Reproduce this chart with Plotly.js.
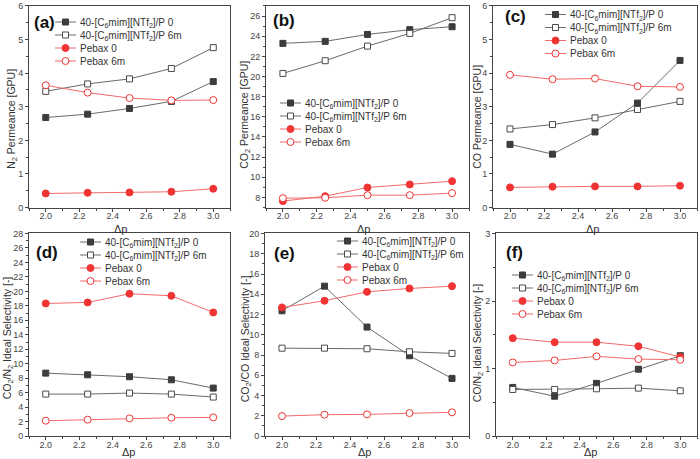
<!DOCTYPE html>
<html>
<head>
<meta charset="utf-8">
<script src="https://cdn.plot.ly/plotly-3.0.1.min.js"></script>
<style>html,body{margin:0;padding:0;background:#fff;}#chart{width:700px;height:459px;}</style>
</head>
<body>
<div id="chart"></div>
<script>
// ---- data ----
const dp = [2.0, 2.25, 2.5, 2.75, 3.0];
const seriesNames = [
  "40-[C<sub>6</sub>mim][NTf<sub>2</sub>]/P 0",
  "40-[C<sub>6</sub>mim][NTf<sub>2</sub>]/P 6m",
  "Pebax 0",
  "Pebax 6m"
];
// (a) N2 permeance [GPU]
const n2_P0   = [2.68, 2.78, 2.95, 3.16, 3.75];
const n2_P6   = [3.46, 3.68, 3.83, 4.14, 4.76];
const n2_Pb0  = [0.42, 0.44, 0.45, 0.47, 0.56];
const n2_Pb6  = [3.64, 3.42, 3.26, 3.19, 3.20];
// (b) CO2 permeance [GPU]
const co2_P0  = [23.29, 23.49, 24.18, 24.65, 24.94];
const co2_P6  = [20.31, 21.57, 23.02, 24.28, 25.84];
const co2_Pb0 = [7.64, 8.13, 8.99, 9.29, 9.62];
const co2_Pb6 = [7.93, 7.97, 8.23, 8.23, 8.43];
// (c) CO permeance [GPU]
const co_P0   = [1.88, 1.59, 2.25, 3.11, 4.38];
const co_P6   = [2.34, 2.47, 2.67, 2.92, 3.16];
const co_Pb0  = [0.60, 0.62, 0.63, 0.63, 0.65];
const co_Pb6  = [3.95, 3.82, 3.84, 3.61, 3.59];
// (d) CO2/N2 ideal selectivity
const sCN_P0  = [8.70, 8.47, 8.20, 7.78, 6.63];
const sCN_P6  = [5.80, 5.80, 5.94, 5.80, 5.39];
const sCN_Pb0 = [18.33, 18.47, 19.67, 19.39, 17.09];
const sCN_Pb6 = [2.12, 2.26, 2.44, 2.53, 2.58];
// (e) CO2/CO ideal selectivity
const sCC_P0  = [12.37, 14.80, 10.76, 7.93, 5.69];
const sCC_P6  = [8.68, 8.68, 8.62, 8.32, 8.16];
const sCC_Pb0 = [12.70, 13.36, 14.24, 14.57, 14.80];
const sCC_Pb6 = [1.97, 2.11, 2.14, 2.27, 2.34];
// (f) CO/N2 ideal selectivity
const sON_P0  = [0.72, 0.59, 0.78, 0.99, 1.19];
const sON_P6  = [0.69, 0.69, 0.70, 0.71, 0.67];
const sON_Pb0 = [1.45, 1.39, 1.39, 1.33, 1.17];
const sON_Pb6 = [1.09, 1.12, 1.18, 1.14, 1.13];

const panelLabels = ["(a)", "(b)", "(c)", "(d)", "(e)", "(f)"];
const yTitles = [
  "N<sub>2</sub> Permeance [GPU]",
  "CO<sub>2</sub> Permeance [GPU]",
  "CO Permeance [GPU]",
  "CO<sub>2</sub>/N<sub>2</sub> Ideal Selectivity [-]",
  "CO<sub>2</sub>/CO Ideal Selectivity [-]",
  "CO/N<sub>2</sub> Ideal Selectivity [-]"
];
const xTitle = "Δp";

// ---- styling / placement ----
const W = 700, H = 459;
const FONT = "Arial, 'Liberation Sans', sans-serif";
const GRAY_M = "#3c3c3c", GRAY_L = "#6a6a6a";
const RED_M = "#f03434", RED_L = "#f26a6a";
const styles = [
  {line: GRAY_L, mc: GRAY_M, fill: GRAY_M, sym: "square", size: 6},
  {line: GRAY_L, mc: "#4a4a4a", fill: "#ffffff", sym: "square", size: 6},
  {line: RED_L, mc: RED_M, fill: RED_M, sym: "circle", size: 7},
  {line: RED_L, mc: RED_M, fill: "#ffffff", sym: "circle", size: 7}
];

const panels = [
  {data: [n2_P0, n2_P6, n2_Pb0, n2_Pb6], yr: [0, 6], dt: 1},
  {data: [co2_P0, co2_P6, co2_Pb0, co2_Pb6], yr: [7, 27], dt: 2, t0: 8},
  {data: [co_P0, co_P6, co_Pb0, co_Pb6], yr: [0, 6], dt: 1},
  {data: [sCN_P0, sCN_P6, sCN_Pb0, sCN_Pb6], yr: [0, 28], dt: 2},
  {data: [sCC_P0, sCC_P6, sCC_Pb0, sCC_Pb6], yr: [0, 20], dt: 2},
  {data: [sON_P0, sON_P6, sON_Pb0, sON_Pb6], yr: [0, 3], dt: 1}
];

// pixel boxes [left, right, top, bottom]
const boxes = [
  [29, 230, 5, 207], [266, 469, 5, 207], [493, 697, 5, 207],
  [29, 230, 233, 436], [265, 469, 233, 436], [496, 697, 233, 436]
];
// legend placement (text start x, first row center y)
const legPos = [[82, 22], [307, 103], [572, 13], [107, 242], [364, 241], [539, 275]];
const labPos = [[45, 22], [284, 20], [515, 16], [47, 252], [284, 253], [514, 252]];
// axis-title placement (px): y-title [x, y], x-title [x, y]
const yTitlePos = [[12, 118], [245, 114], [477, 116], [8, 338], [246, 339], [478, 343]];
const xTitlePos = [[120, 228], [363, 228], [592, 228], [128, 452], [364, 452], [590, 452]];

const traces = [];
const layout = {
  width: W, height: H,
  margin: {l: 0, r: 0, t: 0, b: 0},
  paper_bgcolor: "#fff", plot_bgcolor: "#fff",
  font: {family: FONT, color: "#333", size: 10},
  annotations: [],
  hovermode: false
};

panels.forEach((p, i) => {
  const n = i + 1;
  const xa = n === 1 ? "xaxis" : "xaxis" + n;
  const ya = n === 1 ? "yaxis" : "yaxis" + n;
  const xr = n === 1 ? "x" : "x" + n;
  const yr = n === 1 ? "y" : "y" + n;
  const legId = n === 1 ? "legend" : "legend" + n;
  const b = boxes[i];
  p.data.forEach((vals, k) => {
    const s = styles[k];
    traces.push({
      x: dp, y: vals, xaxis: xr, yaxis: yr,
      type: "scatter", mode: "lines+markers",
      name: seriesNames[k], legend: legId,
      line: {color: s.line, width: 1},
      marker: {symbol: s.sym, size: s.size, color: s.fill, line: {color: s.mc, width: 1}},
      cliponaxis: false
    });
  });
  const axCommon = {
    showline: true, linecolor: "#444", linewidth: 1, mirror: true,
    ticks: "outside", ticklen: 3, tickwidth: 1, tickcolor: "#444",
    showgrid: false, zeroline: false,
    tickfont: {family: FONT, size: 9, color: "#444"}
  };
  layout[xa] = Object.assign({}, axCommon, {
    domain: [b[0] / W, b[1] / W], anchor: yr,
    range: [1.9, 3.1], tick0: 2.0, dtick: 0.2, tickformat: ".1f",
    ticklabelstandoff: -3,
    minor: {ticks: "outside", ticklen: 2, dtick: 0.1, tickcolor: "#444"}
  });
  layout[ya] = Object.assign({}, axCommon, {
    domain: [1 - b[3] / H, 1 - b[2] / H], anchor: xr,
    range: p.yr, dtick: p.dt, tick0: p.t0 !== undefined ? p.t0 : 0,
    minor: {ticks: "outside", ticklen: 2, dtick: p.dt / 2, tickcolor: "#444"}
  });
  layout[legId] = {
    x: (legPos[i][0] - 42) / W, y: 1 - (legPos[i][1] - 14.5) / H,
    xanchor: "left", yanchor: "top",
    bgcolor: "rgba(0,0,0,0)", borderwidth: 0,
    font: {family: FONT, size: 10, color: "#333"}
  };
  layout.annotations.push({
    text: "<b>" + panelLabels[i] + "</b>",
    xref: "paper", yref: "paper",
    x: labPos[i][0] / W, y: 1 - labPos[i][1] / H,
    xanchor: "center", yanchor: "middle", showarrow: false,
    font: {family: FONT, size: 17, color: "#111"}
  });
  layout.annotations.push({
    text: yTitles[i], textangle: -90,
    xref: "paper", yref: "paper",
    x: yTitlePos[i][0] / W, y: 1 - yTitlePos[i][1] / H,
    xanchor: "center", yanchor: "middle", showarrow: false,
    font: {family: FONT, size: 10.5, color: "#333"}
  });
  layout.annotations.push({
    text: xTitle,
    xref: "paper", yref: "paper",
    x: xTitlePos[i][0] / W, y: 1 - xTitlePos[i][1] / H,
    xanchor: "center", yanchor: "middle", showarrow: false,
    font: {family: FONT, size: 11, color: "#333"}
  });
});

const ROW_GAP = 13;
function tightenLegends() {
  const gd = document.getElementById("chart");
  gd.querySelectorAll("g.infolayer > g").forEach(g => {
    const cls = g.getAttribute("class") || "";
    if (!/^legend\d*$/.test(cls)) return;
    const items = g.querySelectorAll("g.traces");
    let y0 = null;
    items.forEach((it, idx) => {
      const tr = it.getAttribute("transform") || "";
      const m = tr.match(/translate\(\s*([-\d.e]+)[ ,]+([-\d.e]+)\s*\)/);
      if (!m) return;
      if (y0 === null) y0 = parseFloat(m[2]);
      it.setAttribute("transform", "translate(" + m[1] + "," + (y0 + idx * ROW_GAP) + ")");
      // shorter legend key, with a small gap before the text
      it.querySelectorAll("g.legendlines path").forEach(pth => pth.setAttribute("d", "M15,0h21"));
      it.querySelectorAll("g.legendpoints path.scatterpts").forEach(pt => pt.setAttribute("transform", "translate(25.5,0)"));
    });
  });
}

Plotly.newPlot("chart", traces, layout, {staticPlot: true, displayModeBar: false}).then(tightenLegends);
</script>
</body>
</html>
